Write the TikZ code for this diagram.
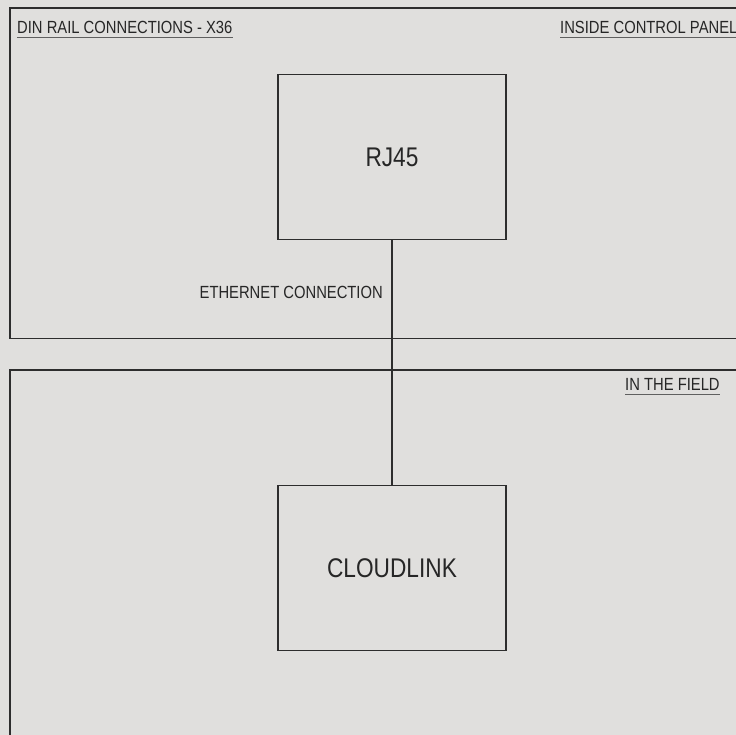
\documentclass[tikz,border=0pt]{standalone}
\usepackage{fontspec}
\setmainfont{Liberation Sans}[FakeStretch=0.84]
\usepackage{tikz}
\usetikzlibrary{backgrounds}
\definecolor{panelbg}{RGB}{224,223,221}
\definecolor{edge}{RGB}{45,45,45}
\definecolor{uline}{RGB}{95,95,95}

\begin{document}
\begin{tikzpicture}[x=1pt, y=-1pt,
        small/.style={inner sep=0pt, font=\fontsize{17.6}{20}\selectfont, text=black!85},
        device/.style={rectangle, draw=edge, line width=1.3pt, minimum width=228pt, minimum height=165pt, font=\fontsize{27}{30}\selectfont, text=black!85},
        underline/.style={draw=uline, line width=1.6pt}]
            \useasboundingbox[fill=panelbg] (0, 0) rectangle (736, 735);

            %panels
            \draw[edge, line width=1.3pt] (740, 8) -- (10, 8) -- (10, 338.5) -- (740, 338.5);
            \draw[edge, line width=1.3pt] (740, 370) -- (10, 370) -- (10, 740);

            \node[small, anchor=base west] (din) at (17, 33.3) {DIN RAIL CONNECTIONS - X36};
            \node[small, anchor=base west] (inside) at (560, 33.3) {INSIDE CONTROL PANEL};
            \node[small, anchor=base west] (field) at (625, 390.7) {IN THE FIELD};
            \draw[underline] ([yshift=-4.3pt]din.base west) -- ([yshift=-4.3pt]din.base east);
            \draw[underline] ([yshift=-4.3pt]inside.base west) -- ([yshift=-4.3pt]inside.base east);
            \draw[underline] ([yshift=-3.6pt]field.base west) -- ([yshift=-3.6pt]field.base east);

            %devices
            \node[device] (rj) at (392, 157.2) {RJ45};
            \node[device] (cloud) at (392, 568.2) {CLOUDLINK};

            \draw[edge, line width=1.3pt] (rj) -- (cloud);
            \node[small, anchor=base east] (eth) at (383, 298.3) {ETHERNET CONNECTION};
        \end{tikzpicture}
\end{document}
